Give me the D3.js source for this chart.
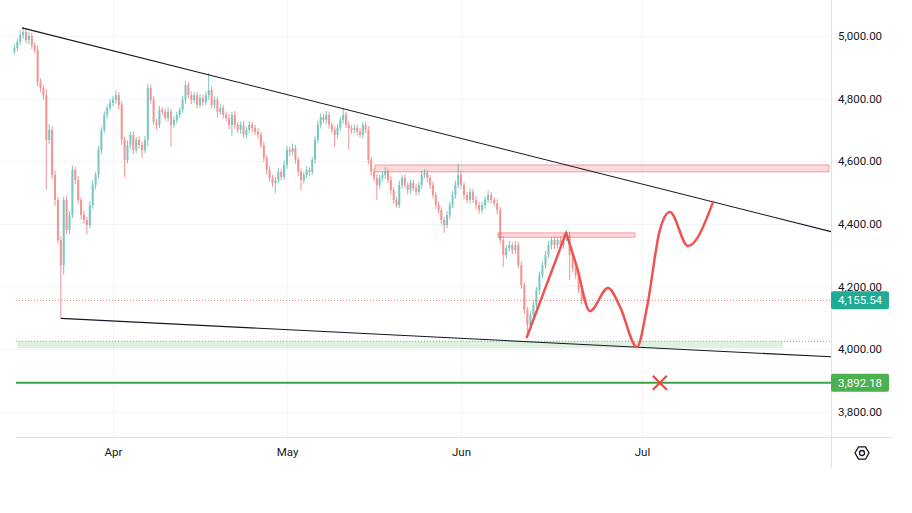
<!DOCTYPE html>
<html lang="en">
<head>
  <meta charset="UTF-8">
  <title>Wedge chart</title>
  <script src="https://cdnjs.cloudflare.com/ajax/libs/d3/7.8.5/d3.min.js"></script>
  <style>
    body { margin: 0; background: white; }
    svg { display: block; background: white; font-family: Roboto, "Noto Sans", sans-serif; }
  </style>
</head>
<body>
  <script>
    // 12h candles starting Mar 15, open = previous close
    var firstOpen = 4950;
    var closes = [
      4962, 4981, 5003, 5013, 4987, 5000, 4971, 4955, 4853, 4834,
      4811, 4668, 4700, 4556, 4476, 4348, 4268, 4476, 4380, 4428,
      4572, 4540, 4476, 4428, 4412, 4396, 4460, 4524, 4556, 4636,
      4700, 4748, 4770, 4786,
      4796, 4811, 4780, 4668, 4604, 4652, 4684, 4636, 4668, 4652,
      4636, 4668, 4834, 4796, 4725, 4716, 4764, 4758, 4738, 4758,
      4716, 4732, 4748, 4764, 4796, 4843, 4811, 4796, 4811, 4780,
      4802, 4789, 4811, 4827, 4780, 4796, 4758, 4770, 4748, 4738,
      4716, 4748, 4716, 4700, 4716, 4684, 4700, 4716, 4706, 4694,
      4684, 4652, 4610, 4572, 4546, 4530, 4540, 4566, 4550, 4588,
      4636, 4630, 4642, 4604, 4566, 4540, 4556, 4572, 4566, 4604,
      4668, 4716, 4741, 4732, 4748, 4716, 4700, 4684, 4706, 4732,
      4748, 4716, 4706, 4700, 4706, 4694, 4684, 4716, 4700, 4604,
      4566, 4546, 4524, 4546, 4556, 4566, 4540, 4508, 4476, 4460,
      4524, 4546, 4524, 4508, 4530, 4514, 4502, 4524, 4556, 4562,
      4546, 4524, 4492, 4460, 4444, 4412, 4396, 4428, 4460, 4492,
      4524, 4556,
      4524, 4492, 4476, 4502, 4476, 4460, 4444, 4460, 4476, 4492,
      4476, 4466, 4444, 4348, 4300, 4322, 4332, 4316, 4332, 4268,
      4204, 4125, 4077, 4109, 4141, 4188, 4236, 4268, 4300, 4332,
      4348, 4332, 4348, 4332, 4355, 4364, 4300, 4259, 4236, 4188,
      4155.54
    ];
    var wickUp = [
      12, 10, 15, 15, 8, 12, 10, 9, 14, 11,
      10, 20, 18, 12, 15, 10, 12, 10, 14, 12,
      15, 10, 12, 9, 14, 10, 12, 15, 10, 12,
      10, 12, 9, 14, 12, 15, 10, 12, 10, 14,
      10, 12, 9, 11, 10, 12, 14, 10, 12, 10,
      12, 9, 11, 14, 10, 12, 10, 9, 12, 14,
      10, 12, 9, 11, 12, 10, 10, 55, 12, 10,
      9, 12, 10, 11, 12, 10, 12, 9, 10, 12,
      10, 12, 9, 10, 12, 10, 11, 9, 12, 10,
      10, 12, 9, 14, 12, 10, 14, 10, 9, 12,
      10, 12, 9, 10, 12, 14, 12, 10, 12, 10,
      9, 11, 12, 10, 22, 10, 12, 9, 11, 10,
      12, 10, 9, 12, 10, 11, 12, 10, 9, 15,
      10, 12, 9, 10, 14, 10, 12, 9, 11, 10,
      12, 10, 14, 12, 10, 9, 11, 10, 12, 10,
      9, 12, 10, 12, 14, 35, 12, 10, 9, 12,
      10, 12, 9, 10, 12, 14, 10, 9, 12, 10,
      12, 10, 14, 9, 12, 10, 11, 9, 10, 12,
      14, 10, 12, 10, 14, 12, 10, 12, 10, 12,
      10, 16, 12, 10, 9, 12, 10
    ];
    var wickDn = [
      10, 12, 9, 12, 10, 14, 12, 10, 15, 12,
      14, 160, 12, 15, 18, 12, 170, 30, 14, 12,
      10, 14, 12, 15, 12, 30, 10, 12, 14, 10,
      12, 10, 12, 9, 10, 12, 14, 16, 55, 10,
      12, 14, 10, 12, 25, 10, 20, 12, 10, 14,
      10, 12, 9, 12, 70, 10, 12, 10, 9, 12,
      10, 14, 10, 12, 9, 12, 10, 14, 10, 12,
      20, 10, 12, 10, 14, 35, 12, 10, 12, 10,
      12, 10, 14, 10, 12, 10, 12, 14, 10, 12,
      32, 10, 12, 10, 12, 14, 10, 12, 14, 32,
      12, 10, 14, 10, 12, 10, 12, 10, 14, 12,
      10, 40, 12, 10, 12, 10, 70, 12, 10, 12,
      10, 12, 10, 14, 12, 10, 48, 12, 10, 12,
      10, 14, 12, 8, 10, 12, 10, 14, 12, 10,
      12, 10, 12, 10, 14, 12, 10, 12, 10, 14,
      25, 10, 12, 10, 12, 10, 12, 14, 10, 12,
      10, 14, 12, 10, 12, 10, 12, 10, 14, 12,
      38, 12, 10, 14, 12, 10, 12, 14, 39, 12,
      10, 12, 14, 10, 12, 10, 14, 12, 10, 12,
      12, 10, 80, 14, 12, 10, 14
    ];

    var priceTicks = [3800, 4000, 4200, 4400, 4600, 4800, 5000];
    var monthTicks = ["2026-04-01", "2026-05-01", "2026-06-01", "2026-07-01"];

    var lastPrice = 4155.54;
    var supportPrice = 3892.18;
    var upperZone = { from: "2026-05-16T16:00", to: null, top: 4588, bottom: 4566 };
    var lowerZone = { from: "2026-06-07T03:00", to: "2026-06-29T20:00", top: 4371, bottom: 4357 };
    var greenZone = { from: "2026-03-15T12:00", to: "2026-07-24T10:00", top: 4026, bottom: 4003 };

    var upperTrend = [["2026-03-16T07:30", 5026], ["2026-07-12T18:30", 4470]];
    var lowerTrend = [["2026-03-23T00:00", 4098], ["2026-06-30T04:00", 4006]];

    var projLeg = [["2026-06-11T22:00", 4038], ["2026-06-18T10:00", 4371]];
    var projCurve = [
      ["2026-06-18T10:00", 4371], ["2026-06-20T05:00", 4262], ["2026-06-22T09:00", 4121],
      ["2026-06-25T09:00", 4195], ["2026-06-27T09:00", 4134], ["2026-06-30T04:00", 4006],
      ["2026-07-01T20:00", 4134], ["2026-07-03T23:00", 4380], ["2026-07-05T15:00", 4438],
      ["2026-07-08T15:00", 4329], ["2026-07-12T19:00", 4470]
    ];
    var crossMark = ["2026-07-03T23:00", 3892.18];

    var w = 912, h = 513;
    var plotR = 831, plotB = 437, leftX = 16;
    var parse = function(s) { return new Date(s); };

    var svg = d3.select("body").append("svg")
      .attr("width", w)
      .attr("height", h);

    var xScale = d3.scaleTime()
      .domain(monthTicks.map(parse))
      .range([113, 287, 461, 642]);

    var yScale = d3.scaleLinear()
      .domain([4000, 5000])
      .range([349, 36]);

    var start = new Date(2026, 2, 15, 0);
    var candles = closes.map(function(c, i) {
      var o = i ? closes[i - 1] : firstOpen;
      return {
        t: d3.timeHour.offset(start, 12 * i),
        o: o, c: c,
        hi: Math.max(o, c) + wickUp[i],
        lo: Math.min(o, c) - wickDn[i]
      };
    });

    svg.append("clipPath").attr("id", "plot")
      .append("rect").attr("x", 0).attr("y", 0).attr("width", plotR).attr("height", plotB);

    // grid
    var grid = svg.append("g").attr("stroke", "#f3f4f7").attr("stroke-width", 1);
    grid.selectAll("line.h").data(priceTicks).enter().append("line")
      .attr("x1", 0).attr("x2", plotR)
      .attr("y1", function(d) { return Math.round(yScale(d)) + 0.5; })
      .attr("y2", function(d) { return Math.round(yScale(d)) + 0.5; });
    grid.selectAll("line.v").data(monthTicks).enter().append("line")
      .attr("y1", 0).attr("y2", plotB)
      .attr("x1", function(d) { return Math.round(xScale(parse(d))) + 0.5; })
      .attr("x2", function(d) { return Math.round(xScale(parse(d))) + 0.5; });

    var plot = svg.append("g").attr("clip-path", "url(#plot)");

    // zones
    function zone(z, fill, stroke) {
      var x1 = xScale(parse(z.from));
      var x2 = z.to ? xScale(parse(z.to)) : plotR - 2;
      plot.append("rect")
        .attr("x", x1).attr("width", x2 - x1)
        .attr("y", yScale(z.top)).attr("height", yScale(z.bottom) - yScale(z.top))
        .attr("fill", fill).attr("stroke", stroke).attr("stroke-width", 1);
    }
    zone(upperZone, "rgba(242,54,69,0.18)", "rgba(242,54,69,0.45)");
    zone(lowerZone, "rgba(242,54,69,0.18)", "rgba(242,54,69,0.45)");
    zone(greenZone, "rgba(76,175,80,0.18)", "none");

    plot.append("line")
      .attr("x1", leftX).attr("x2", plotR)
      .attr("y1", yScale(greenZone.top) + 0.5).attr("y2", yScale(greenZone.top) + 0.5)
      .attr("stroke", "#9aa59a").attr("stroke-width", 1).attr("stroke-dasharray", "1,2");

    // last price dotted line
    plot.append("line")
      .attr("x1", leftX).attr("x2", plotR)
      .attr("y1", yScale(lastPrice)).attr("y2", yScale(lastPrice))
      .attr("stroke", "#f23645").attr("stroke-opacity", 0.7)
      .attr("stroke-width", 1).attr("stroke-dasharray", "1,2");

    // candles
    var cg = plot.append("g").attr("opacity", 0.62);
    cg.selectAll("line").data(candles).enter().append("line")
      .attr("x1", function(d) { return xScale(d.t); })
      .attr("x2", function(d) { return xScale(d.t); })
      .attr("y1", function(d) { return yScale(d.hi); })
      .attr("y2", function(d) { return yScale(d.lo); })
      .attr("stroke", function(d) { return d.c >= d.o ? "#26a69a" : "#ef5350"; })
      .attr("stroke-width", 1);
    cg.selectAll("rect").data(candles).enter().append("rect")
      .attr("x", function(d) { return xScale(d.t) - 1; })
      .attr("width", 2)
      .attr("y", function(d) { return yScale(Math.max(d.o, d.c)); })
      .attr("height", function(d) { return Math.max(1, Math.abs(yScale(d.o) - yScale(d.c))); })
      .attr("fill", function(d) { return d.c >= d.o ? "#26a69a" : "#ef5350"; });

    // support line
    plot.append("line")
      .attr("x1", leftX).attr("x2", plotR)
      .attr("y1", yScale(supportPrice)).attr("y2", yScale(supportPrice))
      .attr("stroke", "#43a047").attr("stroke-width", 2);

    // trendlines, extended to the price axis
    function trend(pts) {
      var x1 = xScale(parse(pts[0][0])), y1 = yScale(pts[0][1]);
      var x2 = xScale(parse(pts[1][0])), y2 = yScale(pts[1][1]);
      var k = (y2 - y1) / (x2 - x1);
      plot.append("line")
        .attr("x1", x1).attr("y1", y1)
        .attr("x2", plotR).attr("y2", y1 + k * (plotR - x1))
        .attr("stroke", "#131722").attr("stroke-width", 1.1);
    }
    trend(upperTrend);
    trend(lowerTrend);

    // projected path
    var line = d3.line()
      .x(function(d) { return xScale(parse(d[0])); })
      .y(function(d) { return yScale(d[1]); });
    plot.append("path").datum(projLeg)
      .attr("d", line)
      .attr("fill", "none").attr("stroke", "#ef5350").attr("stroke-width", 2.5)
      .attr("stroke-linecap", "round");
    plot.append("path").datum(projCurve)
      .attr("d", line.curve(d3.curveMonotoneX))
      .attr("fill", "none").attr("stroke", "#ef5350").attr("stroke-width", 2.5)
      .attr("stroke-linecap", "round");

    var cx = xScale(parse(crossMark[0])), cy = yScale(crossMark[1]);
    plot.append("path")
      .attr("d", "M" + (cx - 7) + "," + (cy - 7) + "L" + (cx + 7) + "," + (cy + 7) +
                 "M" + (cx + 7) + "," + (cy - 7) + "L" + (cx - 7) + "," + (cy + 7))
      .attr("stroke", "#f44336").attr("stroke-width", 2).attr("fill", "none");

    // panel borders
    svg.append("line")
      .attr("x1", plotR + 0.5).attr("x2", plotR + 0.5).attr("y1", 0).attr("y2", 468)
      .attr("stroke", "#e0e3eb");
    svg.append("line")
      .attr("x1", leftX).attr("x2", 893).attr("y1", plotB + 0.5).attr("y2", plotB + 0.5)
      .attr("stroke", "#e0e3eb");

    // price axis
    var yAxis = d3.axisRight(yScale)
      .tickValues(priceTicks)
      .tickSize(0)
      .tickPadding(7)
      .tickFormat(d3.format(",.2f"));
    svg.append("g")
      .attr("transform", "translate(" + plotR + ",0)")
      .call(yAxis)
      .call(function(g) { g.select(".domain").remove(); })
      .selectAll("text")
      .attr("font-size", 11.5)
      .attr("font-family", "Roboto, sans-serif")
      .attr("fill", "#131722");

    // time axis
    var xAxis = d3.axisBottom(xScale)
      .tickValues(monthTicks.map(parse))
      .tickSize(0)
      .tickPadding(11)
      .tickFormat(d3.timeFormat("%b"));
    svg.append("g")
      .attr("transform", "translate(0," + plotB + ")")
      .call(xAxis)
      .call(function(g) { g.select(".domain").remove(); })
      .selectAll("text")
      .attr("font-size", 11.5)
      .attr("font-family", "Roboto, sans-serif")
      .attr("fill", "#131722");

    // price badges
    function badge(p, color) {
      var y = yScale(p);
      var g = svg.append("g");
      g.append("rect")
        .attr("x", plotR).attr("y", y - 9).attr("width", 58).attr("height", 18)
        .attr("rx", 2).attr("fill", color);
      g.append("text")
        .attr("x", plotR + 7).attr("y", y + 4)
        .attr("font-size", 11.5)
        .attr("fill", "white")
        .text(d3.format(",.2f")(p));
    }
    badge(lastPrice, "#22ab94");
    badge(supportPrice, "#4caf50");

    // settings icon
    var gx = 862, gy = 453, r = 7;
    var hex = d3.range(6).map(function(i) {
      var a = Math.PI / 3 * i;
      return [gx + r * Math.cos(a), gy + r * Math.sin(a)];
    });
    svg.append("path")
      .attr("d", "M" + hex.join("L") + "Z")
      .attr("fill", "none").attr("stroke", "#131722").attr("stroke-width", 1.3);
    svg.append("circle")
      .attr("cx", gx).attr("cy", gy).attr("r", 2.5)
      .attr("fill", "none").attr("stroke", "#131722").attr("stroke-width", 1.3);
  </script>
</body>
</html>
